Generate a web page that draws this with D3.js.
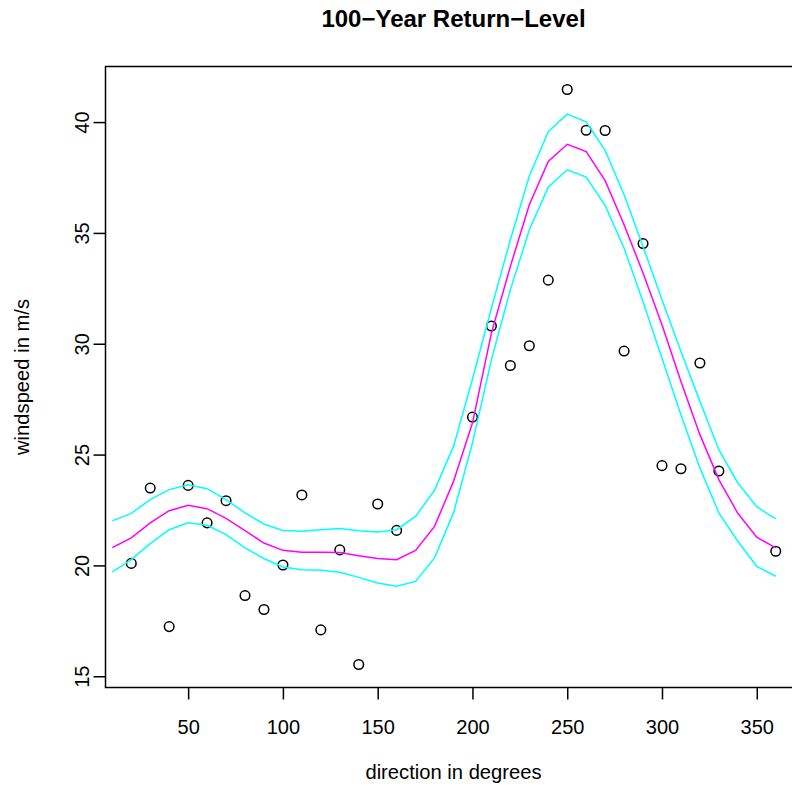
<!DOCTYPE html>
<html>
<head>
<meta charset="utf-8">
<script src="https://cdn.jsdelivr.net/npm/d3@7"></script>
<style>
  body { margin: 0; background: #fff; }
  svg { display: block; font-family: "Liberation Sans", Arial, Helvetica, sans-serif; }
</style>
</head>
<body>
<svg id="chart" width="792" height="787"></svg>
<script>
// observed maxima per direction sector
const obsDir = [20, 30, 40, 50, 60, 70, 80, 90, 100, 110, 120, 130, 140, 150, 160,
  200, 210, 220, 230, 240, 250, 260, 270, 280, 290, 300, 310, 320, 330, 360];
const obsSpeed = [20.09, 23.49, 17.24, 23.61, 21.92, 22.92, 18.64, 18.01, 20.02, 23.18, 17.09, 20.70, 15.53, 22.77, 21.58,
  26.69, 30.80, 29.02, 29.91, 32.87, 41.47, 39.63, 39.62, 29.67, 34.52, 24.50, 24.36, 29.13, 24.26, 20.64];

// fitted return level and confidence band, every 10 degrees
const fitDir = [10, 20, 30, 40, 50, 60, 70, 80, 90, 100, 110, 120, 130, 140, 150, 160, 170, 180,
  190, 200, 210, 220, 230, 240, 250, 260, 270, 280, 290, 300, 310, 320, 330, 340, 350, 360];
const fitLevel = [20.80, 21.24, 21.92, 22.47, 22.71, 22.56, 22.12, 21.57, 21.01, 20.68, 20.59, 20.59, 20.58, 20.44, 20.31, 20.26, 20.68, 21.76,
  23.79, 26.42, 30.48, 33.49, 36.27, 38.22, 39.00, 38.67, 37.36, 35.37, 33.19, 30.86, 28.30, 25.90, 23.87, 22.35, 21.27, 20.79];
const fitUpper = [22.01, 22.35, 22.97, 23.42, 23.64, 23.46, 22.97, 22.37, 21.87, 21.58, 21.54, 21.61, 21.66, 21.56, 21.51, 21.61, 22.21, 23.39,
  25.37, 28.40, 31.60, 34.69, 37.57, 39.57, 40.36, 40.01, 38.72, 36.72, 34.39, 31.98, 29.65, 27.40, 25.22, 23.72, 22.65, 22.10];
const fitLower = [19.71, 20.26, 20.98, 21.61, 21.92, 21.81, 21.39, 20.79, 20.31, 19.93, 19.81, 19.78, 19.69, 19.46, 19.21, 19.06, 19.28, 20.34,
  22.37, 25.52, 29.28, 32.43, 35.14, 37.06, 37.85, 37.52, 36.24, 34.31, 31.90, 29.35, 26.80, 24.40, 22.37, 21.09, 19.96, 19.51];

const xTicks = [50, 100, 150, 200, 250, 300, 350];
const yTicks = [15, 20, 25, 30, 35, 40];

const plot = { left: 105.5, right: 801.5, top: 66.5, bottom: 687.5 };
const tickFont = 20;

// R style 4% range extension
function pad(ext) {
  const d = (ext[1] - ext[0]) * 0.04;
  return [ext[0] - d, ext[1] + d];
}

const x = d3.scaleLinear().domain(pad(d3.extent(obsDir))).range([plot.left, plot.right]);
const y = d3.scaleLinear().domain(pad(d3.extent(obsSpeed))).range([plot.bottom, plot.top]);

const svg = d3.select('#chart');

// points
svg.append('g').selectAll('circle')
  .data(obsDir.map((d, i) => [d, obsSpeed[i]]))
  .enter().append('circle')
  .attr('cx', d => x(d[0]))
  .attr('cy', d => y(d[1]))
  .attr('r', 4.8)
  .attr('fill', 'none')
  .attr('stroke', '#000')
  .attr('stroke-width', 1.5);

const line = d3.line().x(d => x(d[0])).y(d => y(d[1]));
const series = [
  { vals: fitUpper, color: '#00ffff' },
  { vals: fitLower, color: '#00ffff' },
  { vals: fitLevel, color: '#ff00ff' }
];
series.forEach(s => {
  svg.append('path')
    .datum(fitDir.map((d, i) => [d, s.vals[i]]))
    .attr('d', line)
    .attr('fill', 'none')
    .attr('stroke', s.color)
    .attr('stroke-width', 1.5);
});

// box
svg.append('rect')
  .attr('x', plot.left).attr('y', plot.top)
  .attr('width', plot.right - plot.left).attr('height', plot.bottom - plot.top)
  .attr('fill', 'none').attr('stroke', '#000').attr('stroke-width', 1.5);

// x axis
const xAxis = svg.append('g')
  .attr('transform', `translate(0,${plot.bottom})`)
  .call(d3.axisBottom(x).tickValues(xTicks).tickSize(12).tickPadding(0).tickSizeOuter(0));
xAxis.select('.domain').remove();
xAxis.selectAll('line').attr('stroke', '#000').attr('stroke-width', 1.5);
xAxis.selectAll('text')
  .attr('y', 0).attr('dy', null)
  .attr('transform', 'translate(0,46)')
  .attr('font-size', tickFont).attr('font-family', 'Liberation Sans, Arial, sans-serif')
  .attr('fill', '#000');

// y axis, labels rotated like R's las = 0
const yAxis = svg.append('g')
  .attr('transform', `translate(${plot.left},0)`)
  .call(d3.axisLeft(y).tickValues(yTicks).tickSize(12).tickPadding(0).tickSizeOuter(0));
yAxis.select('.domain').remove();
yAxis.selectAll('line').attr('stroke', '#000').attr('stroke-width', 1.5);
yAxis.selectAll('text')
  .attr('x', 0).attr('dy', null)
  .attr('text-anchor', 'middle')
  .attr('transform', 'translate(-17,0) rotate(-90)')
  .attr('font-size', tickFont).attr('font-family', 'Liberation Sans, Arial, sans-serif')
  .attr('fill', '#000');

const midX = (plot.left + plot.right) / 2;
const midY = (plot.top + plot.bottom) / 2;

svg.append('text')
  .attr('x', midX).attr('y', 26.5)
  .attr('text-anchor', 'middle')
  .attr('font-size', 24).attr('font-weight', 'bold')
  .text('100\u2212Year Return\u2212Level');

svg.append('text')
  .attr('x', midX).attr('y', 779)
  .attr('text-anchor', 'middle')
  .attr('font-size', 20.2)
  .text('direction in degrees');

svg.append('text')
  .attr('transform', `translate(29,${midY}) rotate(-90)`)
  .attr('text-anchor', 'middle')
  .attr('font-size', 20.2)
  .text('windspeed in m/s');
</script>
</body>
</html>
